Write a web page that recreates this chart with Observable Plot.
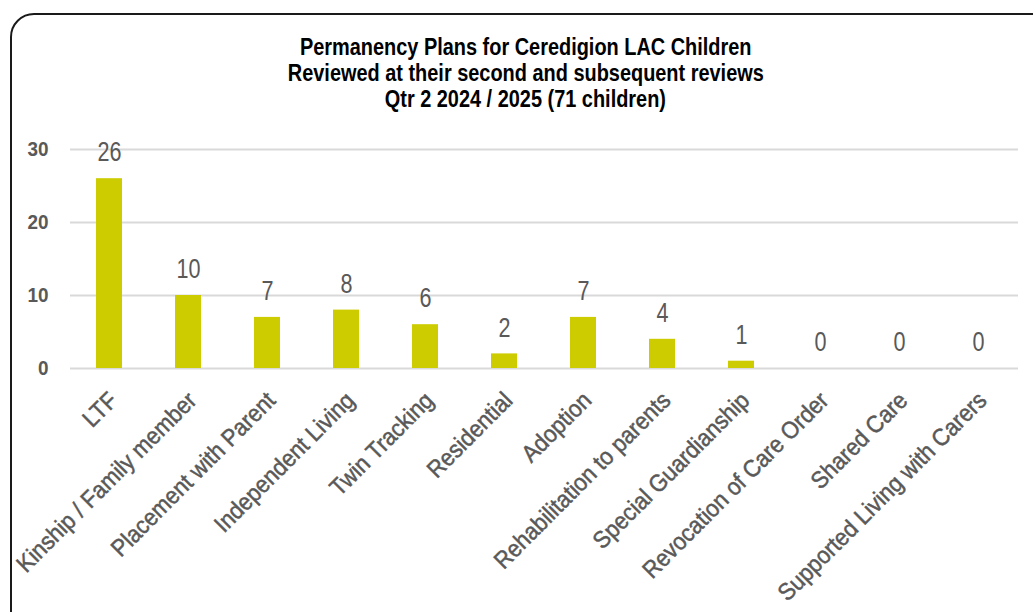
<!DOCTYPE html>
<html>
<head>
<meta charset="utf-8">
<script src="https://cdn.jsdelivr.net/npm/d3@7"></script>
<script src="https://cdn.jsdelivr.net/npm/@observablehq/plot@0.6"></script>
<style>
  html, body { margin: 0; padding: 0; background: #fff; }
  #wrap { position: relative; width: 1033px; height: 612px; overflow: hidden; background: #fff; }
  #frame { position: absolute; left: 10px; top: 13px; width: 1060px; height: 640px; border: 2px solid #1a1a1a; border-radius: 24px; box-sizing: border-box; pointer-events: none; }
  #title { position: relative; box-sizing: border-box; height: 130px; padding-top: 34px; padding-left: 18px; text-align: center;
    font-family: "Liberation Sans", Arial, sans-serif; font-weight: bold; font-size: 23px; line-height: 26px; color: #000; }
  #title span { display: inline-block; transform: scaleX(0.866); transform-origin: center; white-space: nowrap; }
  #chart { position: relative; }
  #chart svg { display: block; }
</style>
</head>
<body>
<div id="wrap">
  <div id="frame"></div>
  <div id="title"><span>Permanency Plans for Ceredigion LAC Children</span><br><span>Reviewed at their second and subsequent reviews</span><br><span>Qtr 2 2024 / 2025 (71 children)</span></div>
  <div id="chart"></div>
</div>
<script>
const categories = [
  "LTF",
  "Kinship / Family member",
  "Placement with Parent",
  "Independent Living",
  "Twin Tracking",
  "Residential",
  "Adoption",
  "Rehabilitation to parents",
  "Special Guardianship",
  "Revocation of Care Order",
  "Shared Care",
  "Supported Living with Carers"
];
const values = [26, 10, 7, 8, 6, 2, 7, 4, 1, 0, 0, 0];
const yTicks = [0, 10, 20, 30];

const data = categories.map((c, i) => ({category: c, value: values[i]}));

const sans = '"Liberation Sans", Arial, sans-serif';

const chart = Plot.plot({
  width: 1033,
  height: 482,
  marginTop: 19,
  marginBottom: 244,
  marginLeft: 70,
  marginRight: 15,
  style: {background: "transparent", overflow: "visible"},
  x: {domain: categories, paddingInner: 0.67, paddingOuter: 0.335, label: null},
  y: {domain: [0, 30], label: null},
  marks: [
    Plot.gridY(yTicks, {stroke: "#d9d9d9", strokeOpacity: 1, strokeWidth: 2}),
    Plot.barY(data, {x: "category", y: "value", fill: "#cccc00"}),
    Plot.text(data, {x: "category", y: "value", text: d => String(d.value), dy: -26, lineAnchor: "middle",
      fontSize: 27, fontFamily: sans, fill: "#595959"}),
    Plot.axisY({ticks: yTicks, tickSize: 0, tickPadding: 22, fontSize: 21, fontWeight: "bold", fontFamily: sans, fill: "#595959", label: null}),
    Plot.axisX({tickSize: 0, tickPadding: 28, tickRotate: -45, dx: 4, fontSize: 24, fontFamily: sans, fill: "#595959", label: null})
  ]
});

// emulate the condensed (narrow) typeface of the original by squeezing glyphs horizontally
function squeeze(selector, s) {
  chart.querySelectorAll(selector).forEach(t => {
    let tr = t.getAttribute("transform");
    if (!tr) {
      const x = t.getAttribute("x") || 0, y = t.getAttribute("y") || 0;
      t.removeAttribute("x"); t.removeAttribute("y");
      tr = `translate(${x},${y})`;
    }
    t.setAttribute("transform", tr + ` scale(${s},1)`);
  });
}
squeeze('g[aria-label="text"] text', 0.8);
squeeze('g[aria-label="y-axis tick label"] text', 0.9);
squeeze('g[aria-label="x-axis tick label"] text', 0.92);
const xl = chart.querySelector('g[aria-label="x-axis tick label"]');
if (xl) { xl.setAttribute("stroke", "#595959"); xl.setAttribute("stroke-width", "0.5"); }

document.getElementById("chart").appendChild(chart);
</script>
</body>
</html>
